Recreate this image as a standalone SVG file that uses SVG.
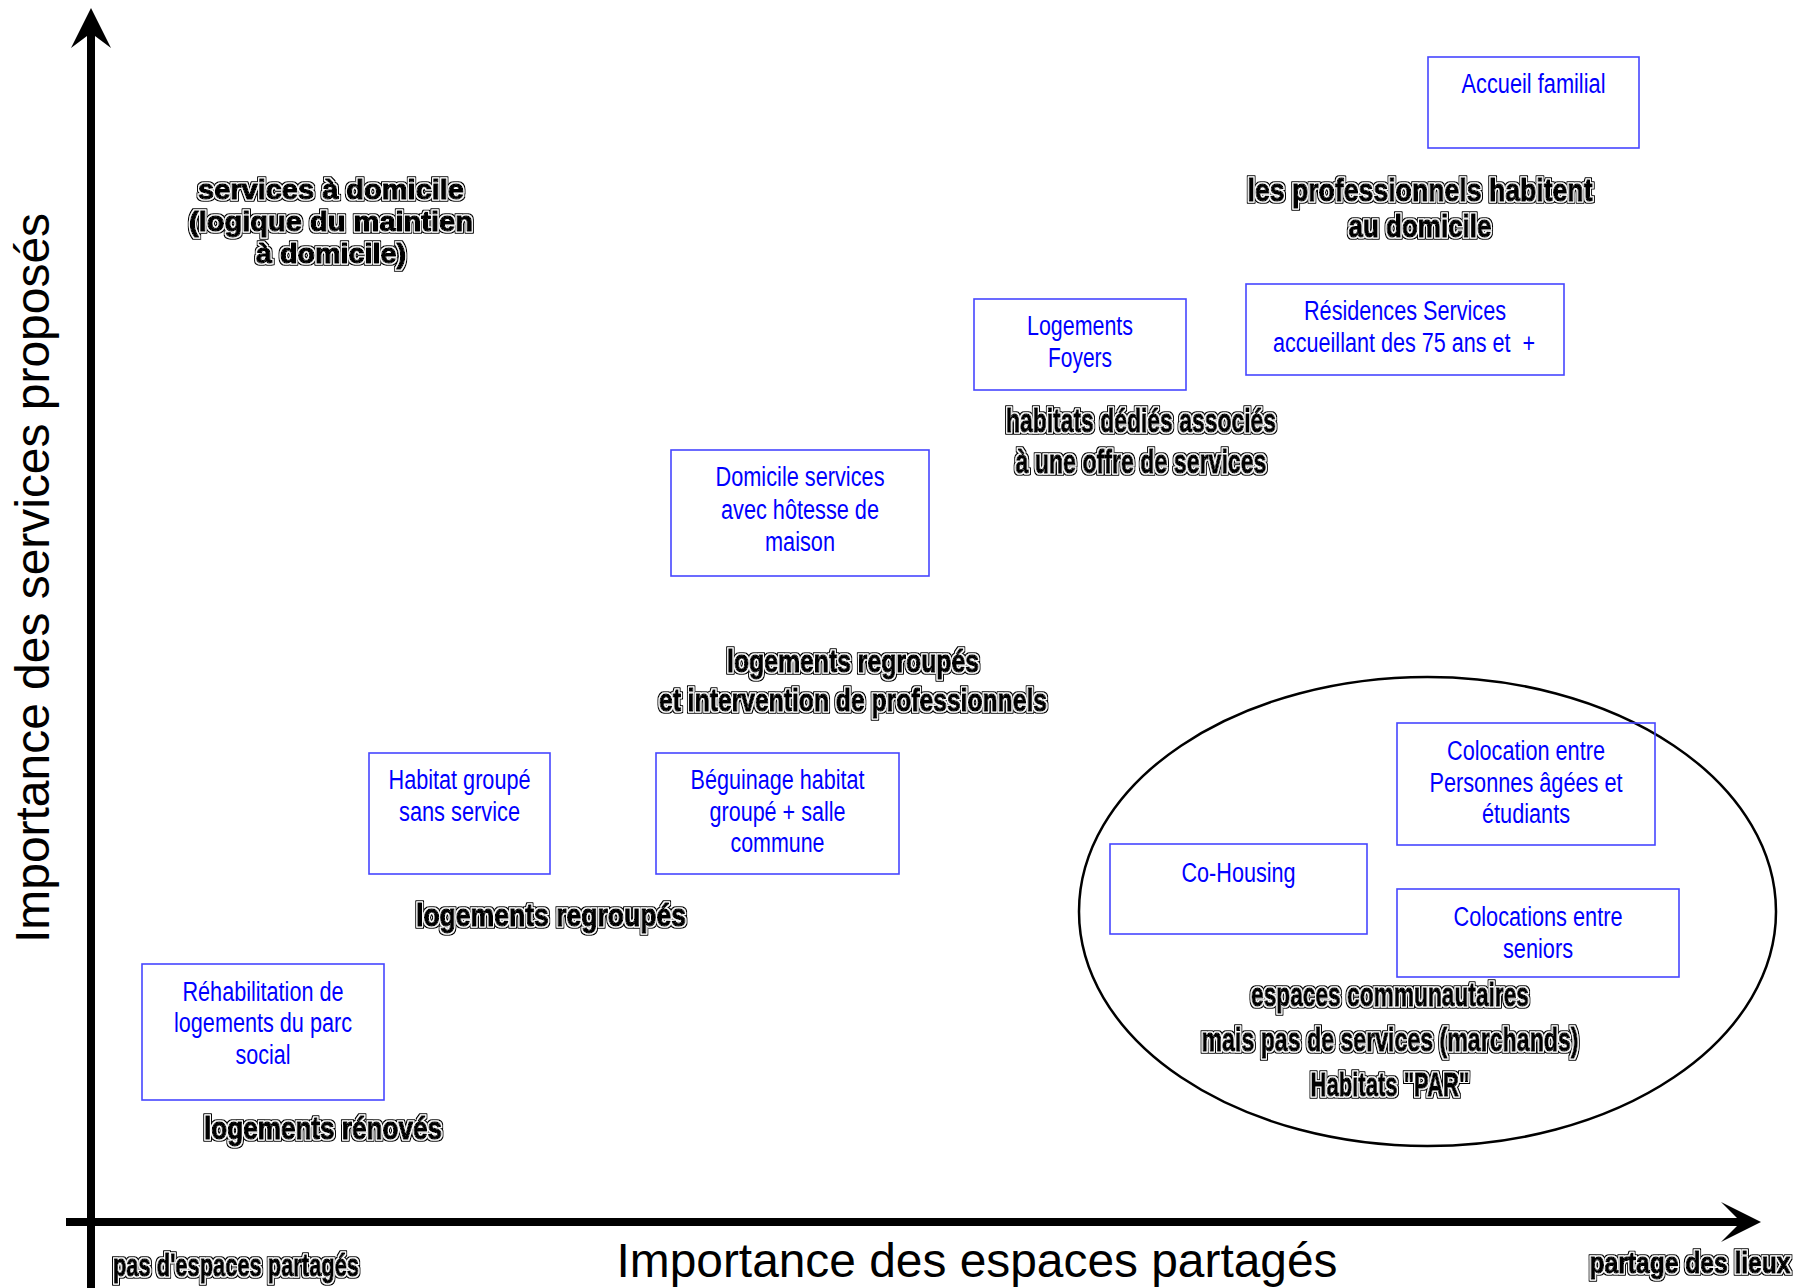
<svg xmlns="http://www.w3.org/2000/svg" width="1808" height="1288" viewBox="0 0 1808 1288">
<defs>
<style>
.box{fill:none;stroke:#4646ff;stroke-width:1.6}
.bt{font-family:"Liberation Sans",Arial,sans-serif;font-size:27px;fill:#0000ff;text-anchor:middle}
.lb{font-family:"Liberation Sans",Arial,sans-serif;font-weight:bold;fill:#000;stroke:#000;stroke-width:1.3;stroke-linejoin:round;text-anchor:middle;filter:url(#outline)}
.ax{font-family:"Liberation Sans",Arial,sans-serif;font-size:48px;fill:#000;text-anchor:middle}
.axis{stroke:#000;stroke-width:8;fill:none}
</style>
<filter id="outline" x="-3%" y="-10%" width="106%" height="120%">
<feMorphology in="SourceAlpha" operator="dilate" radius="2" result="outer"/>
<feFlood flood-color="#000" result="blk"/>
<feComposite in="blk" in2="outer" operator="in" result="blackOuter"/>
<feMorphology in="SourceAlpha" operator="dilate" radius="1" result="mid"/>
<feFlood flood-color="#fff" result="wht"/>
<feComposite in="wht" in2="mid" operator="in" result="whiteMid"/>
<feMerge><feMergeNode in="blackOuter"/><feMergeNode in="whiteMid"/><feMergeNode in="SourceGraphic"/></feMerge>
</filter>
</defs>
<rect width="1808" height="1288" fill="#fff"/>

<g id="axes">
<line class="axis" x1="91" y1="30" x2="91" y2="1288"/>
<polygon points="91,8 111,48 91,33 71,48" fill="#000"/>
<line class="axis" x1="66" y1="1222" x2="1742" y2="1222"/>
<polygon points="1761,1222 1721,1202 1741,1222 1721,1242" fill="#000"/>
<text class="ax" transform="translate(49,578) rotate(-90)" textLength="730" lengthAdjust="spacingAndGlyphs">Importance des services proposés</text>
<text class="ax" x="977" y="1277" textLength="721" lengthAdjust="spacingAndGlyphs">Importance des espaces partagés</text>
<text class="lb" x="236" y="1276" font-size="31" textLength="246" lengthAdjust="spacingAndGlyphs">pas d'espaces partagés</text>
<text class="lb" transform="translate(1690,1273) scale(0.82,1)" font-size="30">partage des lieux</text>
</g>

<g id="group-ellipse">
<ellipse cx="1427.5" cy="911.5" rx="348.5" ry="234.5" fill="none" stroke="#000" stroke-width="2.5"/>
</g>

<g id="labels">
<text class="lb" x="331" y="199" font-size="28" textLength="266" lengthAdjust="spacingAndGlyphs">services à domicile</text>
<text class="lb" x="331" y="231" font-size="28" textLength="284" lengthAdjust="spacingAndGlyphs">(logique du maintien</text>
<text class="lb" x="331" y="263" font-size="28" textLength="150" lengthAdjust="spacingAndGlyphs">à domicile)</text>
<text class="lb" x="1420" y="201" font-size="32" textLength="345" lengthAdjust="spacingAndGlyphs">les professionnels habitent</text>
<text class="lb" x="1420" y="237" font-size="32" textLength="143" lengthAdjust="spacingAndGlyphs">au domicile</text>
<text class="lb" x="1141" y="432" font-size="34" textLength="270" lengthAdjust="spacingAndGlyphs">habitats dédiés associés</text>
<text class="lb" x="1141" y="473" font-size="34" textLength="251" lengthAdjust="spacingAndGlyphs">à une offre de services</text>
<text class="lb" x="853" y="672" font-size="31" textLength="252" lengthAdjust="spacingAndGlyphs">logements regroupés</text>
<text class="lb" x="853" y="711" font-size="31" textLength="388" lengthAdjust="spacingAndGlyphs">et intervention de professionnels</text>
<text class="lb" x="551" y="926" font-size="31" textLength="270" lengthAdjust="spacingAndGlyphs">logements regroupés</text>
<text class="lb" x="323" y="1139" font-size="31" textLength="238" lengthAdjust="spacingAndGlyphs">logements rénovés</text>
<text class="lb" x="1390" y="1006" font-size="33" textLength="278" lengthAdjust="spacingAndGlyphs">espaces communautaires</text>
<text class="lb" x="1390" y="1051" font-size="33" textLength="377" lengthAdjust="spacingAndGlyphs">mais pas de services (marchands)</text>
<text class="lb" x="1390" y="1096" font-size="33" textLength="159" lengthAdjust="spacingAndGlyphs">Habitats "PAR"</text>
</g>

<g id="accueil-familial">
<rect class="box" x="1428" y="57" width="211" height="91"/>
<text class="bt" x="1533.5" y="93" textLength="144" lengthAdjust="spacingAndGlyphs">Accueil familial</text>
</g>
<g id="residences-services">
<rect class="box" x="1246" y="284" width="318" height="91"/>
<text class="bt" x="1405" y="320" textLength="202" lengthAdjust="spacingAndGlyphs">Résidences Services</text>
<text class="bt" x="1404" y="352" textLength="262" lengthAdjust="spacingAndGlyphs" xml:space="preserve">accueillant des 75 ans et  +</text>
</g>
<g id="logements-foyers">
<rect class="box" x="974" y="299" width="212" height="91"/>
<text class="bt" x="1080" y="335" textLength="106" lengthAdjust="spacingAndGlyphs">Logements</text>
<text class="bt" x="1080" y="367" textLength="64" lengthAdjust="spacingAndGlyphs">Foyers</text>
</g>
<g id="domicile-services">
<rect class="box" x="671" y="450" width="258" height="126"/>
<text class="bt" x="800" y="486" textLength="169" lengthAdjust="spacingAndGlyphs">Domicile services</text>
<text class="bt" x="800" y="519" textLength="158" lengthAdjust="spacingAndGlyphs">avec hôtesse de</text>
<text class="bt" x="800" y="551" textLength="70" lengthAdjust="spacingAndGlyphs">maison</text>
</g>
<g id="habitat-groupe">
<rect class="box" x="369" y="753" width="181" height="121"/>
<text class="bt" x="459.5" y="789" textLength="142" lengthAdjust="spacingAndGlyphs">Habitat groupé</text>
<text class="bt" x="459.5" y="821" textLength="121" lengthAdjust="spacingAndGlyphs">sans service</text>
</g>
<g id="beguinage">
<rect class="box" x="656" y="753" width="243" height="121"/>
<text class="bt" x="777.5" y="789" textLength="174" lengthAdjust="spacingAndGlyphs">Béguinage habitat</text>
<text class="bt" x="777.5" y="821" textLength="136" lengthAdjust="spacingAndGlyphs">groupé + salle</text>
<text class="bt" x="777.5" y="852" textLength="94" lengthAdjust="spacingAndGlyphs">commune</text>
</g>
<g id="rehabilitation">
<rect class="box" x="142" y="964" width="242" height="136"/>
<text class="bt" x="263" y="1001" textLength="161" lengthAdjust="spacingAndGlyphs">Réhabilitation de</text>
<text class="bt" x="263" y="1032" textLength="178" lengthAdjust="spacingAndGlyphs">logements du parc</text>
<text class="bt" x="263" y="1064" textLength="55" lengthAdjust="spacingAndGlyphs">social</text>
</g>
<g id="colocation-etudiants">
<rect class="box" x="1397" y="723" width="258" height="122"/>
<text class="bt" x="1526" y="760" textLength="158" lengthAdjust="spacingAndGlyphs">Colocation entre</text>
<text class="bt" x="1526" y="792" textLength="193" lengthAdjust="spacingAndGlyphs">Personnes âgées et</text>
<text class="bt" x="1526" y="823" textLength="88" lengthAdjust="spacingAndGlyphs">étudiants</text>
</g>
<g id="co-housing">
<rect class="box" x="1110" y="844" width="257" height="90"/>
<text class="bt" x="1238.5" y="882" textLength="114" lengthAdjust="spacingAndGlyphs">Co-Housing</text>
</g>
<g id="colocations-seniors">
<rect class="box" x="1397" y="889" width="282" height="88"/>
<text class="bt" x="1538" y="926" textLength="169" lengthAdjust="spacingAndGlyphs">Colocations entre</text>
<text class="bt" x="1538" y="958" textLength="70" lengthAdjust="spacingAndGlyphs">seniors</text>
</g>
<g id="connectors"/>
</svg>
